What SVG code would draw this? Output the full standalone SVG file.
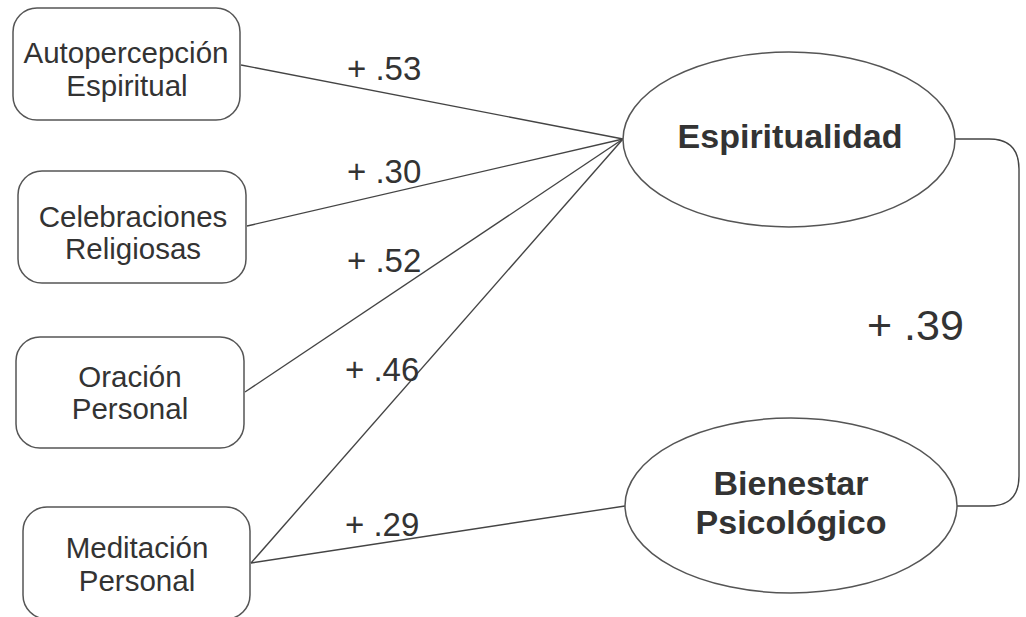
<svg xmlns="http://www.w3.org/2000/svg" width="1026" height="617" viewBox="0 0 1026 617">
<style>
.box{fill:#fff;stroke:#555;stroke-width:1.5}
.ell{fill:#fff;stroke:#555;stroke-width:1.5}
.edge{fill:none;stroke:#444;stroke-width:1.4}
.t{font-family:"Liberation Sans",Arial,sans-serif;font-size:29.5px;fill:#333;text-anchor:middle}
.b{font-family:"Liberation Sans",Arial,sans-serif;font-size:34px;font-weight:bold;fill:#333;text-anchor:middle}
.w{font-family:"Liberation Sans",Arial,sans-serif;font-size:33px;fill:#333}
.w2{font-family:"Liberation Sans",Arial,sans-serif;font-size:43px;fill:#333}
</style>
<rect width="1026" height="617" fill="#fff"/>
<g id="connectors">
<line class="edge" x1="241" y1="65" x2="623" y2="139"/>
<line class="edge" x1="247" y1="226" x2="623" y2="139"/>
<line class="edge" x1="245" y1="392" x2="623" y2="139"/>
<line class="edge" x1="251" y1="563" x2="623" y2="139"/>
<line class="edge" x1="251" y1="563" x2="625" y2="506"/>
<path class="edge" d="M955 139 H989 Q1019 139 1019 169 V476 Q1019 506 989 506 H957"/>
<text class="w" x="347" y="80">+ .53</text>
<text class="w" x="347" y="183">+ .30</text>
<text class="w" x="347" y="272">+ .52</text>
<text class="w" x="345" y="381">+ .46</text>
<text class="w" x="345" y="536">+ .29</text>
<text class="w2" x="867" y="340">+ .39</text>
</g>
<g id="n1">
<rect class="box" x="13" y="8" width="227" height="112" rx="24"/>
<text class="t" x="126" y="63">Autopercepción</text>
<text class="t" x="127" y="96">Espiritual</text>
</g>
<g id="n2">
<rect class="box" x="18" y="171" width="228" height="112" rx="24"/>
<text class="t" x="133" y="227">Celebraciones</text>
<text class="t" x="133" y="259">Religiosas</text>
</g>
<g id="n3">
<rect class="box" x="16" y="337" width="228" height="111" rx="24"/>
<text class="t" x="130" y="387">Oración</text>
<text class="t" x="130" y="419">Personal</text>
</g>
<g id="n4">
<rect class="box" x="23" y="507" width="227" height="112" rx="24"/>
<text class="t" x="137" y="558">Meditación</text>
<text class="t" x="137" y="591">Personal</text>
</g>
<g id="e1">
<ellipse class="ell" cx="789" cy="139.5" rx="166" ry="87.5"/>
<text class="b" x="790" y="148">Espiritualidad</text>
</g>
<g id="e2">
<ellipse class="ell" cx="791" cy="505.5" rx="166" ry="87.5"/>
<text class="b" x="791" y="495">Bienestar</text>
<text class="b" x="791" y="534">Psicológico</text>
</g>
</svg>
